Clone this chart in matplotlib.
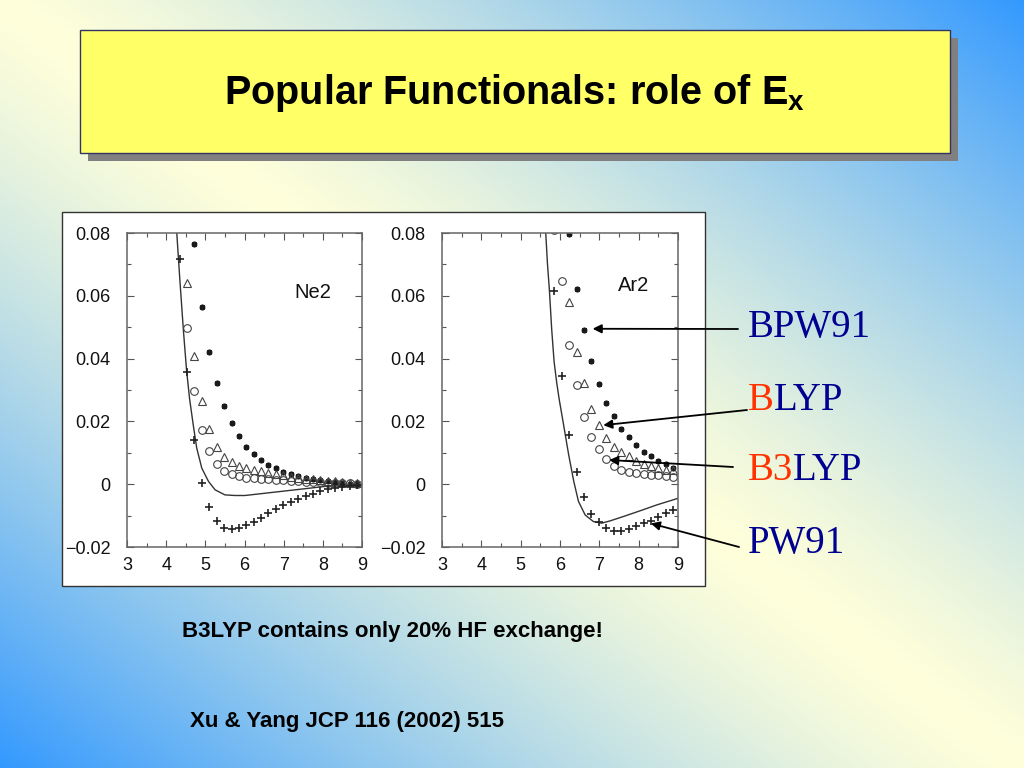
import numpy as np
import matplotlib
matplotlib.use("Agg")
import matplotlib.pyplot as plt
from matplotlib.patches import Rectangle

# ---------- values (x: R in bohr, y: binding curve) ----------
ne_line_x = [4.26, 4.35, 4.44, 4.52, 4.60, 4.69, 4.78, 4.91, 5.08, 5.25, 5.50, 5.76, 6.01, 6.79, 7.64, 8.06, 8.49, 9.00]
ne_line_y = [0.082, 0.065, 0.049, 0.0364, 0.027, 0.019, 0.0115, 0.0051, 0.0009, -0.0018, -0.0034, -0.0036, -0.0036,
             -0.0025, -0.0013, -0.0007, -0.0004, -0.0002]

ne_x = [4.35, 4.54, 4.72, 4.91, 5.10, 5.29, 5.48, 5.67, 5.86, 6.05, 6.24, 6.43, 6.61, 6.80, 6.99, 7.18,
        7.37, 7.56, 7.75, 7.94, 8.13, 8.32, 8.50, 8.69, 8.88]
# first entry of each list is at ne_x[0]; None = off the plot
ne_bpw91 = [None, None, 0.0766, 0.0563, 0.0422, 0.0321, 0.0248, 0.0195, 0.0152, 0.0120, 0.0096, 0.0078, 0.0062,
            0.0051, 0.0040, 0.0032, 0.0025, 0.0019, 0.0017, 0.0014, 0.0011, 0.0007, 0.0004, 0.0002, 0.0001]
ne_blyp = [None, 0.0640, 0.0408, 0.0264, 0.0177, 0.0120, 0.0088, 0.0070, 0.0057, 0.0051, 0.0046, 0.0041, 0.0036,
           0.0032, 0.0028, 0.0024, 0.0021, 0.0018, 0.0015, 0.0013, 0.0011, 0.0009, 0.0007, 0.0005, 0.0004]
ne_b3lyp = [None, 0.0499, 0.0298, 0.0173, 0.0106, 0.0064, 0.0043, 0.0032, 0.0025, 0.0021, 0.0019, 0.0017, 0.0015,
            0.0013, 0.0012, 0.0010, 0.0009, 0.0008, 0.0007, 0.0006, 0.0005, 0.0004, 0.0003, 0.0003, 0.0002]
ne_pw91 = [0.0717, 0.0358, 0.0141, 0.0003, -0.0073, -0.0117, -0.0138, -0.0143, -0.0138, -0.0130, -0.0119, -0.0107,
           -0.0093, -0.0079, -0.0067, -0.0057, -0.0046, -0.0038, -0.0030, -0.0022, -0.0016, -0.0012, -0.0009,
           -0.0006, -0.0004]

ar_line_x = [5.62, 5.68, 5.73, 5.79, 5.85, 5.92, 5.98, 6.09, 6.22, 6.35, 6.47, 6.64, 6.85, 7.06, 7.27, 7.61, 8.03, 8.46, 9.00]
ar_line_y = [0.084, 0.0704, 0.0619, 0.0491, 0.0390, 0.0320, 0.0270, 0.0190, 0.0094, 0.0009, -0.0055, -0.0098, -0.0119,
             -0.0124, -0.0117, -0.0103, -0.0085, -0.0066, -0.0045]

ar_x = [5.86, 6.05, 6.24, 6.43, 6.61, 6.80, 6.99, 7.18, 7.37, 7.56, 7.75, 7.94, 8.13, 8.32, 8.50, 8.69, 8.88]
ar_bpw91 = [None, None, 0.0797, 0.0621, 0.0491, 0.0393, 0.0319, 0.0259, 0.0216, 0.0176, 0.0149, 0.0124, 0.0104,
            0.0089, 0.0075, 0.0064, 0.0051]
ar_blyp = [None, None, 0.0579, 0.0422, 0.0321, 0.0240, 0.0187, 0.0147, 0.0117, 0.0102, 0.0089, 0.0075, 0.0064,
           0.0057, 0.0051, 0.0046, 0.0045]
ar_b3lyp = [0.0810, 0.0646, 0.0444, 0.0316, 0.0213, 0.0149, 0.0112, 0.0081, 0.0057, 0.0046, 0.0040, 0.0037, 0.0033,
            0.0030, 0.0028, 0.0026, 0.0023]
ar_pw91 = [0.0614, 0.0343, 0.0157, 0.0040, -0.0042, -0.0096, -0.0121, -0.0140, -0.0149, -0.0149, -0.0143, -0.0134,
           -0.0125, -0.0117, -0.0105, -0.0092, -0.0082]

x_ticks = [3, 4, 5, 6, 7, 8, 9]
y_ticks = [-0.02, 0, 0.02, 0.04, 0.06, 0.08]
y_tick_labels = ["\u22120.02", "0", "0.02", "0.04", "0.06", "0.08"]

labels = [["BPW91"], ["B", "LYP"], ["B3", "LYP"], ["PW91"]]
label_y = [328, 400, 471, 543]
# arrow heads point at these data positions in the Ar2 panel
arrow_tips = [(6.83, 0.0495), (7.10, 0.0188), (7.25, 0.0077), (8.31, -0.0125)]
arrow_tails = [(738, 329), (747, 410), (733, 467), (739, 547)]

NAVY, RED = "#000090", "#ff3300"
W, H = 1024, 768

plt.rcParams["mathtext.fontset"] = "custom"
plt.rcParams["mathtext.rm"] = "Liberation Sans:bold"
plt.rcParams["font.family"] = ["Liberation Sans", "DejaVu Sans"]

fig = plt.figure(figsize=(W / 100, H / 100), dpi=100)

# ---------- slide background ----------
bg = fig.add_axes([0, 0, 1, 1])
bg.set_xlim(0, W); bg.set_ylim(H, 0); bg.axis("off")
yy, xx = np.mgrid[0:H, 0:W]
t = np.abs(xx / W - yy / H) ** 1.3
c0 = np.array([255, 255, 218]) / 255
c1 = np.array([51, 153, 255]) / 255
img = c0[None, None, :] * (1 - t[..., None]) + c1[None, None, :] * t[..., None]
bg.imshow(img, extent=(0, W, H, 0), aspect="auto", zorder=0)

bg.add_patch(Rectangle((88, 38), 870, 123, facecolor="#808080", edgecolor="none", zorder=1))
bg.add_patch(Rectangle((80, 30), 870, 123, facecolor="#ffff66", edgecolor="#333366", lw=1, zorder=2))
bg.text(515, 104, r"Popular Functionals: role of E$_\mathrm{x}$", ha="center", va="baseline",
        fontsize=28.5, fontweight="bold", color="black", zorder=3)

bg.add_patch(Rectangle((62, 212), 643, 374, facecolor="white", edgecolor="#333333", lw=1, zorder=1))

bg.text(182, 632, "B3LYP contains only 20% HF exchange!", va="center", fontsize=16, fontweight="bold")
bg.text(190, 722, "Xu & Yang JCP 116 (2002) 515", va="center", fontsize=16, fontweight="bold")

for parts, y in zip(labels, label_y):
    colors = [NAVY] if len(parts) == 1 else [RED, NAVY]
    t = bg.text(748, y, parts[0], color=colors[0], fontsize=28, family="Liberation Serif", va="center")
    for s, c in zip(parts[1:], colors[1:]):
        t = bg.annotate(s, xy=(1, 0), xycoords=t, va="bottom", color=c, fontsize=28, family="Liberation Serif")


# ---------- the two panels ----------
def panel(rect, name, name_xy, line_x, line_y, xs, bpw, blyp, b3lyp, pw):
    ax = fig.add_axes(rect)
    ax.set_facecolor("none")
    ax.plot(line_x, line_y, color="#333333", lw=1.0)

    def pts(vals):
        p = [(x, v) for x, v in zip(xs, vals) if v is not None]
        return [a for a, _ in p], [b for _, b in p]

    ax.plot(*pts(bpw), ls="none", marker=(6, 2, 0), ms=4, mew=1.6, color="#1a1a1a")
    ax.plot(*pts(blyp), ls="none", marker="^", ms=5.5, mfc="none", mec="#444444", mew=0.8)
    ax.plot(*pts(b3lyp), ls="none", marker="o", ms=5.5, mfc="none", mec="#444444", mew=0.8)
    ax.plot(*pts(pw), ls="none", marker="+", ms=6, mew=1.2, color="#222222")

    ax.set_xlim(3, 9); ax.set_ylim(-0.02, 0.08)
    ax.set_xticks(x_ticks)
    ax.set_xticks(np.arange(3.5, 9, 1.0), minor=True)
    ax.set_yticks(y_ticks)
    ax.set_yticklabels(y_tick_labels)
    ax.set_yticks([-0.01, 0.01, 0.03, 0.05, 0.07], minor=True)
    ax.tick_params(which="both", direction="in", top=True, right=True, colors="#555555",
                   labelcolor="#111111", labelsize=13)
    ax.tick_params(which="major", length=5, width=0.8)
    ax.tick_params(which="minor", length=3, width=0.8)
    ax.tick_params(axis="y", pad=12)
    ax.tick_params(axis="x", pad=7)
    for s in ax.spines.values():
        s.set_color("#666666"); s.set_linewidth(1.1)
    ax.text(*name_xy, name, ha="center", va="center", fontsize=14.5, color="#111111")
    return ax


ax1 = panel([127 / W, (H - 547) / H, 235 / W, 314 / H], "Ne2", (7.75, 0.061),
            ne_line_x, ne_line_y, ne_x, ne_bpw91, ne_blyp, ne_b3lyp, ne_pw91)
ax2 = panel([442 / W, (H - 547) / H, 236 / W, 314 / H], "Ar2", (7.88, 0.0634),
            ar_line_x, ar_line_y, ar_x, ar_bpw91, ar_blyp, ar_b3lyp, ar_pw91)

arrow_kw = dict(arrowstyle="-|>", color="black", lw=1.3, mutation_scale=13, shrinkA=0, shrinkB=0)
for (tx, ty), (sx, sy) in zip(arrow_tips, arrow_tails):
    ax2.annotate("", xy=(tx, ty), xytext=(sx, H - sy), textcoords="figure pixels",
                 arrowprops=arrow_kw, annotation_clip=False)

fig.savefig("out.png", dpi=100)
